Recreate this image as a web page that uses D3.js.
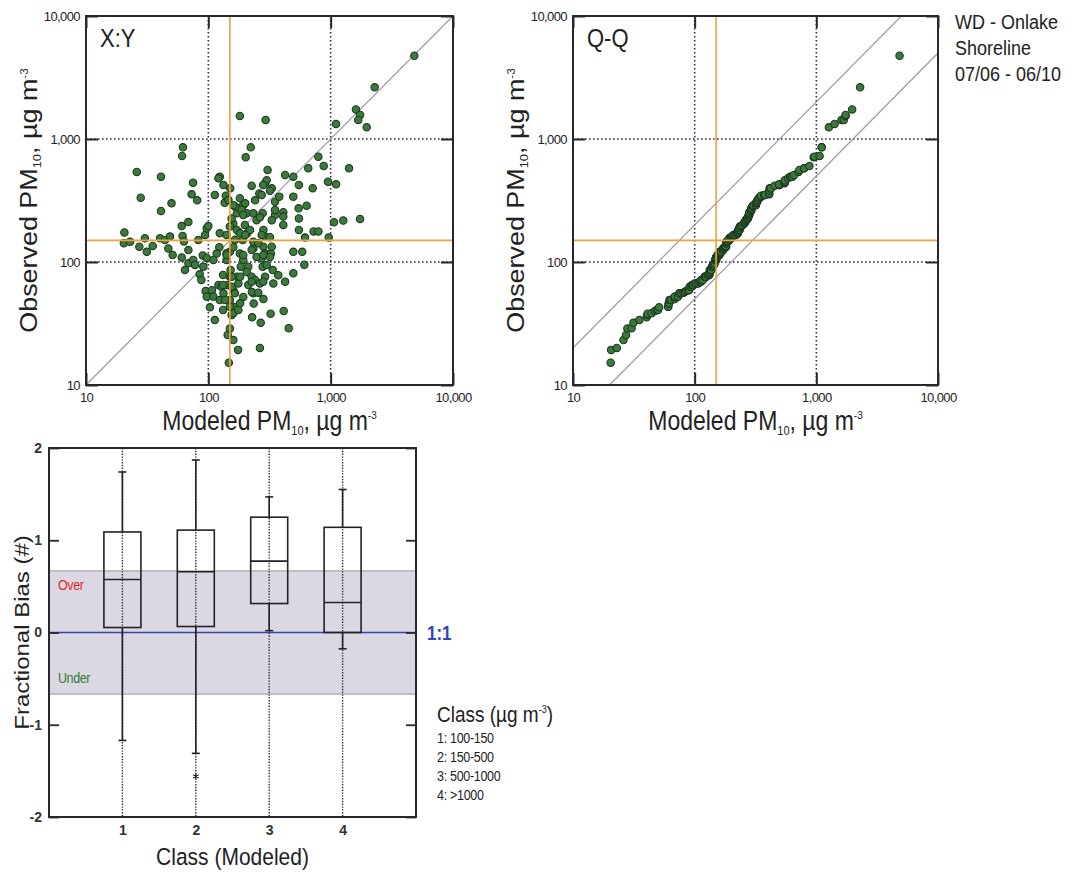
<!DOCTYPE html>
<html><head><meta charset="utf-8">
<script src="https://cdn.jsdelivr.net/npm/d3@7"></script>
<style>
html,body{margin:0;padding:0;background:#fff;}
svg{display:block;font-family:"Liberation Sans",Arial,sans-serif;}
</style></head>
<body><svg id="chart" width="1091" height="873"></svg>
<script>
// ---------- DATA ----------
const modeled = [4830,2290,1610,1740,1680,1970,1107,181,294,62,61,222,202,793,877,1413,656,26,41,124,424,495,305,951,1107,550,713,28,50,41,75,73,81,113,139,151,136,241,261,291,300,330,351,380,495,410,410,410,547,636,550,550,1064,1268,1738,964,725,794,617,495,586,609,495,413,454,323,268,228,235,282,264,175,160,144,147,150,
20.6,20.4,22.9,27.3,30.3,31.4,35.1,40.3,44.2,47.1,48.6,51.1,60.6,61.6,68.7,63.2,68.7,60.6,68.7,64.4,75.3,77.8,82.8,94,97,100,90,97,110,91,85,87.7,95,97,103,113,124,123,117,121,128,107,110,124,133,144,150,152,141,150,160,165,171,160,155,171,165,179,206,199,208,219,191,181,193,212,184,206,226,241,212,171,176,160,150,160,155,193,233,278,291,282,291,282,291,273,233,248,324,330,336,373,264,227,340,351,330,351,121,133,146,160,181,193,233,248,278,
226,281,319,273,200,187,193,264,150,141,273,319,182,200,233,256,226,319,281,141,141,193,300,132,155,182,226,281,424,132,155,165,256,137,150,132,160,176,182];
const observed = [4750,2630,1740,1570,1430,1245,1325,1540,1430,855,728,855,710,718,603,578,578,540,494,494,510,494,560,450,428,423,397,333,300,260,441,355,317,351,346,397,303,317,361,436,461,397,309,340,340,254,234,200,273,287,226,182,210,217,224,158,177,177,158,121,121,95,81,40,29,38,32,35.5,46,50,20,19.3,23.2,25.5,15.2,28.8,
174,142,146,133,156,121,135,156,151,129,161,114,196,163,211,147,125,109,97.5,86,104,94.6,151,166,188,196,113,108,104,91.7,79.4,71.5,58,52.3,42.8,33.7,171,132,117,65,63,59,52.3,49,55.6,65,76,86,104,121,132,151,182,206,226,249,282,273,249,200,171,182,151,117,104,91.6,91.6,83,76,71.5,65,76,67,59,49,43.3,37,52,55.6,91.6,76,182,161,133,117,107,129,110,117,133,86,78,67,57,67,241,219,265,479,423,319,290,330,290,249,219,249,
417,423,380,351,300,265,241,231,194,166,166,159,171,166,146,142,125,110,114,118,114,114,94.6,78.4,75.9,75.9,69.2,69.2,69.2,65,63,55.6,56.3,49.1,43.3,40.7,38.3,40.7,46.1];
const logTicks = [10,100,1000,10000];
const thresholdPM = 150;

const classes = [1,2,3,4];
const classLabels = ["1: 100-150","2: 150-500","3: 500-1000","4: >1000"];
const boxQ3 = [1.09,1.11,1.25,1.14];
const boxMedian = [0.575,0.658,0.774,0.325];
const boxQ1 = [0.054,0.065,0.314,0.0];
const whiskerHigh = [1.74,1.87,1.47,1.55];
const whiskerLow = [-1.17,-1.31,0.02,-0.177];
const outlierClass = [2];
const outlierValue = [-1.56];
const fbTicks = [-2,-1,0,1,2];
const fbBand = [-0.667,0.667];
const siteLines = ["WD - Onlake","Shoreline","07/06 - 06/10"];

// ---------- DRAW ----------
const svg = d3.select("#chart");
svg.append("rect").attr("width",1091).attr("height",873).attr("fill","#fff");
const FRAME="#2a2630", GRID="#2e2a48", ORANGE="#f2a23c", INK="#222";
const VS = 1.17; // vertical stretch of lettering seen in the reference

function stext(g, x, y, size, rotate){
  return g.append("text").attr("font-size",size).attr("fill",INK)
    .attr("transform", rotate ? `translate(${x},${y}) rotate(-90) scale(${VS},1)` : `translate(${x},${y}) scale(1,${VS})`);
}
function pmTitle(g, x, y, prefix, rotate){
  const t = stext(g,x,y,23,rotate).attr("text-anchor","middle");
  t.append("tspan").text(prefix+" PM");
  t.append("tspan").attr("font-size",11).attr("dy",4).text("10");
  t.append("tspan").attr("dy",-4).text(", \u00b5g m");
  t.append("tspan").attr("font-size",10).attr("dy",-9).text("-3");
}

function logPanel(box, label, drawFn){
  const x = d3.scaleLog().domain([10,10000]).range([box.l,box.r]);
  const y = d3.scaleLog().domain([10,10000]).range([box.b,box.t]);
  const g = svg.append("g");
  [100,1000].forEach(v=>{
    g.append("line").attr("x1",x(v)).attr("x2",x(v)).attr("y1",box.t).attr("y2",box.b)
      .attr("stroke",GRID).attr("stroke-width",1.6).attr("stroke-dasharray","1.6,2.4");
    g.append("line").attr("y1",y(v)).attr("y2",y(v)).attr("x1",box.l).attr("x2",box.r)
      .attr("stroke",GRID).attr("stroke-width",1.6).attr("stroke-dasharray","1.6,2.4");
  });
  drawFn(g,x,y);
  g.append("line").attr("x1",x(thresholdPM)).attr("x2",x(thresholdPM)).attr("y1",box.t).attr("y2",box.b)
    .attr("stroke",ORANGE).attr("stroke-width",1.6);
  g.append("line").attr("y1",y(thresholdPM)).attr("y2",y(thresholdPM)).attr("x1",box.l).attr("x2",box.r)
    .attr("stroke",ORANGE).attr("stroke-width",1.6);
  const fmt = d3.format(",");
  const ax = (a)=>a.tickValues(logTicks).tickFormat(fmt).tickSizeInner(-12).tickSizeOuter(0);
  g.append("g").attr("transform",`translate(0,${box.b})`).call(ax(d3.axisBottom(x)).tickPadding(8));
  const gl = g.append("g").attr("transform",`translate(${box.l},0)`).call(ax(d3.axisLeft(y)).tickPadding(6));
  g.append("g").attr("transform",`translate(0,${box.t})`).call(ax(d3.axisTop(x)).tickFormat(""));
  g.append("g").attr("transform",`translate(${box.r},0)`).call(ax(d3.axisRight(y)).tickFormat(""));
  g.selectAll(".domain").remove();
  g.selectAll(".tick line").attr("stroke",FRAME).attr("stroke-width",2);
  g.selectAll(".tick text").attr("font-size",13).attr("fill",INK).attr("font-family","Liberation Sans, Arial, sans-serif").attr("letter-spacing",-0.6);
  gl.selectAll(".tick text").attr("dy","0.32em");
  g.append("rect").attr("x",box.l).attr("y",box.t).attr("width",box.r-box.l).attr("height",box.b-box.t)
    .attr("fill","none").attr("stroke",FRAME).attr("stroke-width",2);
  stext(g,box.l+14,box.t+31,22,false).text(label);
  pmTitle(g,(box.l+box.r)/2,box.b+45,"Modeled",false);
  pmTitle(g,box.l-49,(box.t+box.b)/2,"Observed",true);
  return {x,y};
}

function dots(g, xs, ys, x, y){
  g.selectAll("circle.pt").data(xs.map((v,i)=>[v,ys[i]])).join("circle").attr("class","pt")
    .attr("cx",d=>x(d[0])).attr("cy",d=>y(d[1])).attr("r",3.7)
    .attr("fill","#3c7a3b").attr("stroke","#1c3a20").attr("stroke-width",1.1);
}

// X:Y panel
logPanel({l:86,r:453,t:16,b:385},"X:Y",(g,x,y)=>{
  g.append("line").attr("x1",x(10)).attr("y1",y(10)).attr("x2",x(10000)).attr("y2",y(10000))
    .attr("stroke","#a49cae").attr("stroke-width",1.3);
  dots(g, modeled, observed, x, y);
});

// Q-Q panel (quantiles = sorted values)
const sortedMod = modeled.slice().sort(d3.ascending);
const sortedObs = observed.slice().sort(d3.ascending);
logPanel({l:573,r:938,t:16,b:385},"Q-Q",(g,x,y)=>{
  g.append("clipPath").attr("id","qqclip").append("rect").attr("x",573).attr("y",16).attr("width",365).attr("height",369);
  const lg = g.append("g").attr("clip-path","url(#qqclip)");
  lg.append("line").attr("x1",x(10)).attr("y1",y(20)).attr("x2",x(5000)).attr("y2",y(10000))
    .attr("stroke","#a49cae").attr("stroke-width",1.3);
  lg.append("line").attr("x1",x(20)).attr("y1",y(10)).attr("x2",x(10000)).attr("y2",y(5000))
    .attr("stroke","#a49cae").attr("stroke-width",1.3);
  dots(g, sortedMod, sortedObs, x, y);
});

siteLines.forEach((s,i)=>stext(svg,955,29+i*26,18,false).text(s));

// ---------- Box plot ----------
const bx = d3.scaleLinear().domain([0,5]).range([49,416]);
const by = d3.scaleLinear().domain([-2,2]).range([817,448]);
const gB = svg.append("g");
gB.append("rect").attr("x",bx(0)).attr("width",bx(5)-bx(0)).attr("y",by(fbBand[1])).attr("height",by(fbBand[0])-by(fbBand[1]))
  .attr("fill","#dcd8e3");
fbBand.forEach(v=>gB.append("line").attr("x1",bx(0)).attr("x2",bx(5)).attr("y1",by(v)).attr("y2",by(v)).attr("stroke","#a9a6ad").attr("stroke-width",1.2));
gB.append("line").attr("x1",bx(0)).attr("x2",bx(5)).attr("y1",by(0)).attr("y2",by(0)).attr("stroke","#3346b0").attr("stroke-width",1.6);
stext(gB,58,by(0.5)+4,12.5,false).attr("fill","#e0262a").attr("letter-spacing",-0.4).text("Over");
stext(gB,58,by(-0.5)+4,12.5,false).attr("fill","#2f7d2f").attr("letter-spacing",-0.4).text("Under");

classes.forEach((c,i)=>{
  const cx = bx(c), hw = 18.5;
  gB.append("line").attr("x1",cx).attr("x2",cx).attr("y1",by(2)).attr("y2",by(-2))
    .attr("stroke","#333").attr("stroke-width",1.4).attr("stroke-dasharray","1.4,1.4");
  [[whiskerHigh[i],boxQ3[i]],[boxQ1[i],whiskerLow[i]]].forEach(s=>
    gB.append("line").attr("x1",cx).attr("x2",cx).attr("y1",by(s[0])).attr("y2",by(s[1])).attr("stroke",INK).attr("stroke-width",1.6));
  [whiskerHigh[i],whiskerLow[i]].forEach(v=>
    gB.append("line").attr("x1",cx-4).attr("x2",cx+4).attr("y1",by(v)).attr("y2",by(v)).attr("stroke",INK).attr("stroke-width",1.6));
  gB.append("rect").attr("x",cx-hw).attr("width",2*hw).attr("y",by(boxQ3[i])).attr("height",by(boxQ1[i])-by(boxQ3[i]))
    .attr("fill","none").attr("stroke",INK).attr("stroke-width",1.6);
  gB.append("line").attr("x1",cx-hw).attr("x2",cx+hw).attr("y1",by(boxMedian[i])).attr("y2",by(boxMedian[i])).attr("stroke",INK).attr("stroke-width",1.6);
});
outlierClass.forEach((c,i)=>{
  gB.append("path").attr("d",d3.symbol(d3.symbolAsterisk,28)()).attr("transform",`translate(${bx(c)},${by(outlierValue[i])})`)
    .attr("stroke",INK).attr("stroke-width",1.2).attr("fill","none");
});
const plainInt = d=>String(d);
gB.append("g").attr("transform",`translate(${bx(0)},0)`).call(d3.axisLeft(by).tickValues(fbTicks).tickSizeInner(-10).tickSizeOuter(0).tickPadding(7).tickFormat(plainInt));
gB.append("g").attr("transform",`translate(${bx(5)},0)`).call(d3.axisRight(by).tickValues(fbTicks).tickSizeInner(-10).tickSizeOuter(0).tickFormat(""));
gB.append("g").attr("transform",`translate(0,${by(-2)})`).call(d3.axisBottom(bx).tickValues(classes).tickSize(0).tickPadding(8).tickFormat(plainInt));
gB.selectAll(".domain").remove();
gB.selectAll(".tick line").attr("stroke",FRAME).attr("stroke-width",1.8);
gB.selectAll(".tick text").attr("font-size",14).attr("font-weight","bold").attr("fill","#333").attr("font-family","Liberation Sans, Arial, sans-serif");
gB.append("rect").attr("x",bx(0)).attr("y",by(2)).attr("width",bx(5)-bx(0)).attr("height",by(-2)-by(2))
  .attr("fill","none").attr("stroke",FRAME).attr("stroke-width",2);
stext(gB,(bx(0)+bx(5))/2,865,21,false).attr("text-anchor","middle").text("Class (Modeled)");
stext(gB,29,by(0),20.5,true).attr("text-anchor","middle").text("Fractional Bias (#)");
stext(gB,427,by(0)+7,17,false).attr("font-weight","bold").attr("fill","#3346b0").text("1:1");
const lt = stext(gB,437,722,19,false);
lt.append("tspan").text("Class (\u00b5g m");
lt.append("tspan").attr("font-size",9).attr("dy",-8).text("-3");
lt.append("tspan").attr("dy",8).text(")");
classLabels.forEach((d,i)=>stext(gB,437,743+i*19,12.5,false).attr("letter-spacing",-0.3).text(d));
</script></body></html>
